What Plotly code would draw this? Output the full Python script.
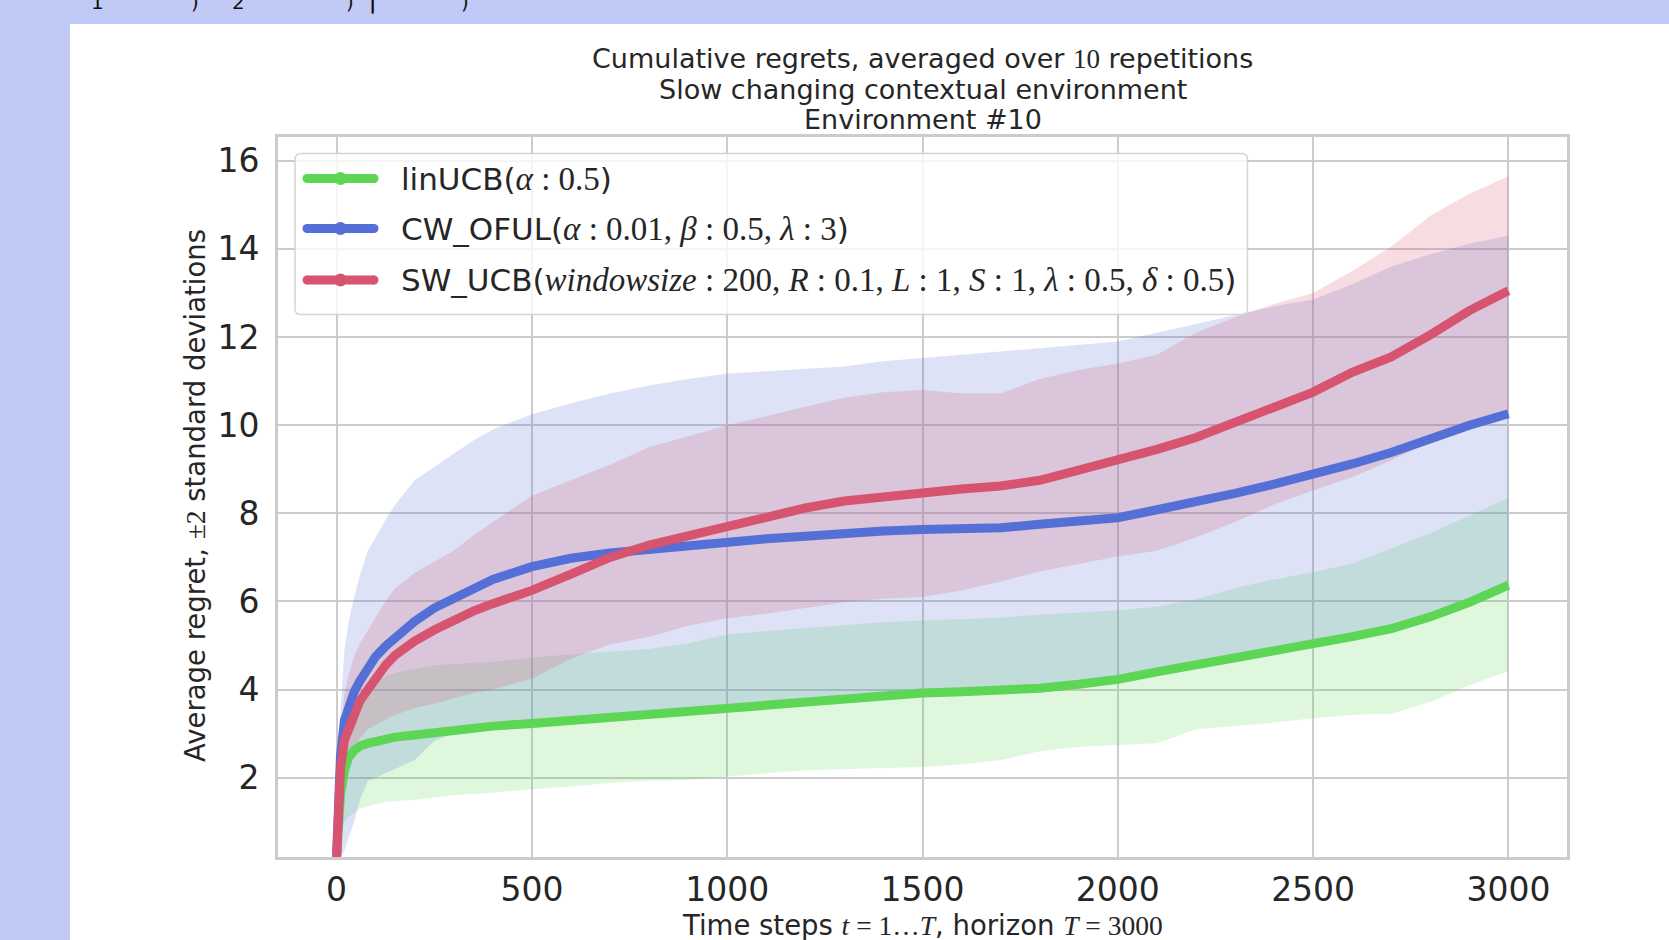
import plotly.graph_objects as go

# ---------------- data ----------------
t_steps = [0, 5, 10, 20, 30, 45, 60, 80, 100, 125,
           150, 200, 250, 300, 350, 400, 500, 600, 700, 800,
           900, 1000, 1100, 1200, 1300, 1400, 1500, 1600, 1700, 1800,
           1900, 2000, 2100, 2200, 2300, 2400, 2500, 2600, 2700, 2800,
           2900, 3000]

linucb_mean = [0.2, 1.0, 1.6, 2.15, 2.45, 2.62, 2.72, 2.78, 2.83, 2.88,
               2.92, 2.97, 3.03, 3.07, 3.12, 3.17, 3.23, 3.30, 3.40, 3.47,
               3.52, 3.59, 3.66, 3.76, 3.82, 3.86, 3.92, 3.95, 3.98, 4.03,
               4.12, 4.23, 4.40, 4.55, 4.70, 4.85, 5.05, 5.20, 5.38, 5.65,
               5.98, 6.37]
linucb_upper = [0.2, 1.2, 2.0, 2.6, 3.0, 3.4, 3.65, 4.0, 4.15, 4.3,
                4.38, 4.47, 4.55, 4.58, 4.60, 4.63, 4.72, 4.80, 4.86, 4.92,
                5.05, 5.25, 5.33, 5.40, 5.47, 5.53, 5.57, 5.60, 5.63, 5.70,
                5.75, 5.80, 5.88, 6.05, 6.30, 6.50, 6.66, 6.86, 7.20, 7.55,
                7.95, 8.35]
linucb_lower = [0.2, 0.5, 0.75, 1.0, 1.1, 1.2, 1.3, 1.35, 1.4, 1.45,
                1.47, 1.5, 1.55, 1.6, 1.63, 1.66, 1.74, 1.80, 1.88, 1.93,
                1.95, 2.03, 2.10, 2.17, 2.20, 2.22, 2.24, 2.30, 2.40, 2.60,
                2.70, 2.74, 2.78, 3.10, 3.18, 3.25, 3.35, 3.43, 3.45, 3.72,
                4.10, 4.42]

cwoful_mean = [0.2, 1.5, 2.5, 3.3, 3.6, 3.95, 4.2, 4.5, 4.75, 4.98,
               5.18, 5.55, 5.85, 6.08, 6.30, 6.50, 6.79, 6.98, 7.10, 7.18,
               7.30, 7.36, 7.42, 7.48, 7.55, 7.60, 7.63, 7.65, 7.67, 7.75,
               7.82, 7.90, 8.08, 8.25, 8.45, 8.66, 8.88, 9.12, 9.38, 9.70,
               10.0, 10.26]
cwoful_upper = [0.2, 2.5, 3.5, 4.9, 5.5, 6.1, 6.6, 7.15, 7.45, 7.85,
                8.2, 8.75, 9.05, 9.35, 9.65, 9.9, 10.25, 10.5, 10.72, 10.9,
                11.05, 11.17, 11.22, 11.28, 11.33, 11.45, 11.53, 11.60, 11.67, 11.75,
                11.82, 11.90, 12.10, 12.30, 12.50, 12.70, 12.85, 13.20, 13.60, 13.88,
                14.12, 14.30]
cwoful_lower = [0.2, 0.2, 0.2, 0.35, 0.6, 1.0, 1.5, 1.93, 2.0, 2.1,
                2.2, 2.4, 2.84, 3.0, 3.05, 3.1, 3.16, 3.23, 3.33, 3.40,
                3.45, 3.52, 3.59, 3.69, 3.75, 3.79, 3.85, 3.88, 3.91, 3.96,
                4.05, 4.16, 4.33, 4.48, 4.63, 4.78, 4.98, 5.13, 5.31, 5.58,
                5.91, 6.30]

swucb_mean = [0.2, 1.4, 2.2, 2.85, 3.1, 3.5, 3.75, 4.0, 4.25, 4.55,
              4.78, 5.1, 5.35, 5.57, 5.78, 5.95, 6.25, 6.62, 7.0, 7.28,
              7.5, 7.71, 7.92, 8.12, 8.28, 8.38, 8.47, 8.55, 8.62, 8.75,
              8.98, 9.2, 9.45, 9.72, 10.05, 10.4, 10.75, 11.2, 11.55, 12.05,
              12.6, 13.05]
swucb_upper = [0.2, 2.0, 2.9, 3.9, 4.3, 4.75, 5.05, 5.35, 5.65, 6.0,
               6.3, 6.65, 6.9, 7.15, 7.5, 7.8, 8.4, 8.75, 9.1, 9.5,
               9.75, 10.0, 10.2, 10.42, 10.62, 10.75, 10.8, 10.72, 10.72, 11.05,
               11.25, 11.4, 11.6, 12.1, 12.45, 12.75, 13.0, 13.5, 14.05, 14.75,
               15.25, 15.65]
swucb_lower = [0.2, 0.5, 1.0, 1.8, 2.3, 2.7, 2.9, 3.1, 3.2, 3.32,
               3.42, 3.58, 3.68, 3.8, 3.92, 4.0, 4.25, 4.7, 5.02, 5.2,
               5.45, 5.62, 5.72, 5.85, 5.98, 6.06, 6.1, 6.25, 6.45, 6.68,
               6.85, 7.02, 7.15, 7.45, 7.8, 8.2, 8.52, 8.82, 9.2, 9.63,
               9.98, 10.2]

x_tick_values = [0, 500, 1000, 1500, 2000, 2500, 3000]
y_tick_values = [2, 4, 6, 8, 10, 12, 14, 16]

title_lines = ["Cumulative regrets, averaged over {10} repetitions",
               "Slow changing contextual environment",
               "Environment #10"]

# ---------------- styling ----------------
W, H = 1669, 940
PLOT_L, PLOT_R, PLOT_T, PLOT_B = 278, 1567, 137, 857
TEXT = "#262626"
SANS = "DejaVu Sans"
COLORS = ["#5cd654", "#5470d6", "#d6546f"]
FILLS = ["rgba(92,214,84,0.2)", "rgba(84,112,214,0.2)", "rgba(214,84,111,0.2)"]
LAVENDER = "#c1c9f7"


def px(x):
    return (x - PLOT_L) / (PLOT_R - PLOT_L)


def py(y):
    return (PLOT_B - y) / (PLOT_B - PLOT_T)


def M(s, size=None):
    st = "font-family:Liberation Serif"
    if size:
        st += ";font-size:%dpx" % size
    return '<span style="' + st + '">' + s + '</span>'


legend_labels = [
    "linUCB(" + M("<i>α</i> : 0.5", 33) + ")",
    "CW_OFUL(" + M("<i>α</i> : 0.01, <i>β</i> : 0.5, <i>λ</i> : 3", 33) + ")",
    "SW_UCB(" + M("<i>windowsize</i> : 200, <i>R</i> : 0.1, <i>L</i> : 1, "
                  "<i>S</i> : 1, <i>λ</i> : 0.5, <i>δ</i> : 0.5", 33) + ")",
]

means = [linucb_mean, cwoful_mean, swucb_mean]
uppers = [linucb_upper, cwoful_upper, swucb_upper]
lowers = [linucb_lower, cwoful_lower, swucb_lower]

fig = go.Figure()

# shaded +-2 std bands (all below the lines, like matplotlib's zorder)
for up, lo, fc in zip(uppers, lowers, FILLS):
    fig.add_trace(go.Scatter(x=t_steps, y=up, mode="lines", line=dict(width=0),
                             showlegend=False, hoverinfo="skip"))
    fig.add_trace(go.Scatter(x=t_steps, y=lo, mode="lines", line=dict(width=0),
                             fill="tonexty", fillcolor=fc,
                             showlegend=False, hoverinfo="skip"))

for m, c in zip(means, COLORS):
    fig.add_trace(go.Scatter(x=t_steps, y=m, mode="lines",
                             line=dict(color=c, width=9),
                             showlegend=False))

shapes = []
# white figure panel over the lavender page
shapes.append(dict(type="rect", xref="paper", yref="paper", layer="below",
                   x0=px(70), x1=px(1680), y0=py(950), y1=py(24),
                   fillcolor="white", line=dict(width=0)))

# legend frame with rounded corners
lx0, lx1, ly0, ly1, r = 295, 1247.5, 153.5, 314.5, 6
rx, ry = r / (PLOT_R - PLOT_L), r / (PLOT_B - PLOT_T)
X0, X1, Yt, Yb = px(lx0), px(lx1), py(ly0), py(ly1)
path = (f"M{X0+rx},{Yt} L{X1-rx},{Yt} Q{X1},{Yt} {X1},{Yt-ry} "
        f"L{X1},{Yb+ry} Q{X1},{Yb} {X1-rx},{Yb} L{X0+rx},{Yb} "
        f"Q{X0},{Yb} {X0},{Yb+ry} L{X0},{Yt-ry} Q{X0},{Yt} {X0+rx},{Yt} Z")
shapes.append(dict(type="path", xref="paper", yref="paper", layer="above",
                   path=path, fillcolor="rgba(255,255,255,0.8)",
                   line=dict(color="#d4d4d4", width=1.5)))

rows = [178.5, 228.5, 280]
for yy, c in zip(rows, COLORS):
    shapes.append(dict(type="line", xref="paper", yref="paper", layer="above",
                       x0=px(307), x1=px(374), y0=py(yy), y1=py(yy),
                       line=dict(color=c, width=9)))
    for cx in (307, 374):
        shapes.append(dict(type="circle", xref="paper", yref="paper", layer="above",
                           x0=px(cx - 4.5), x1=px(cx + 4.5),
                           y0=py(yy + 4.5), y1=py(yy - 4.5),
                           fillcolor=c, line=dict(width=0)))
    shapes.append(dict(type="circle", xref="paper", yref="paper", layer="above",
                       x0=px(340.5 - 6.5), x1=px(340.5 + 6.5),
                       y0=py(yy + 6.5), y1=py(yy - 6.5),
                       fillcolor=c, line=dict(width=0)))

annotations = []
for yy, lab in zip(rows, legend_labels):
    annotations.append(dict(xref="paper", yref="paper", x=px(399), y=py(yy),
                            xanchor="left", yanchor="middle", text=lab,
                            showarrow=False, font=dict(size=31, color=TEXT, family=SANS)))

# title
title_y = [58.5, 89.5, 119.5]
for yy, line in zip(title_y, title_lines):
    annotations.append(dict(xref="paper", yref="paper", x=px(922.5), y=py(yy),
                            xanchor="center", yanchor="middle",
                            text=line.replace("{10}", M("10")),
                            showarrow=False, font=dict(size=27, color=TEXT, family=SANS)))

# axis titles
annotations.append(dict(xref="paper", yref="paper", x=px(922.5), y=py(925),
                        xanchor="center", yanchor="middle", showarrow=False,
                        text="Time steps " + M("<i>t</i> = 1…<i>T</i>") +
                             ", horizon " + M("<i>T</i> = 3000"),
                        font=dict(size=27.5, color=TEXT, family=SANS)))
annotations.append(dict(xref="paper", yref="paper", x=px(195), y=py(496),
                        xanchor="center", yanchor="middle", showarrow=False,
                        textangle=-90,
                        text="Average regret, " + M("±2") + " standard deviations",
                        font=dict(size=27.5, color=TEXT, family=SANS)))

# cut-off fragments of the page text above the figure
for xx, ch, bold in [(97, "1", False), (195, ")", False), (238, "2", False),
                     (350, ")", False), (372, "|", True), (465, ")", False)]:
    annotations.append(dict(xref="paper", yref="paper", x=px(xx), y=py(2),
                            xanchor="center", yanchor="middle", showarrow=False,
                            text=("<b>" + ch + "</b>") if bold else ch,
                            font=dict(size=20, color="#111111", family=SANS)))

axis_common = dict(showgrid=True, gridcolor="#cccccc", gridwidth=2,
                   showline=True, mirror=True, linecolor="#cccccc", linewidth=2.8,
                   zeroline=False, ticks="",
                   tickfont=dict(size=33, color=TEXT, family=SANS))

fig.update_layout(
    width=W, height=H, autosize=False,
    margin=dict(l=PLOT_L, r=W - PLOT_R, t=PLOT_T, b=H - PLOT_B, pad=0),
    paper_bgcolor=LAVENDER, plot_bgcolor="white",
    font=dict(family=SANS, color=TEXT),
    xaxis=dict(range=[-150, 3150], tickvals=x_tick_values,
               ticklabelstandoff=1, **axis_common),
    yaxis=dict(range=[0.2, 16.54], tickvals=y_tick_values,
               ticklabelstandoff=9, **axis_common),
    shapes=shapes, annotations=annotations,
    showlegend=False,
)

fig.write_html("out.html", config={"displayModeBar": False},
               post_script="document.body.style.margin='0';")
